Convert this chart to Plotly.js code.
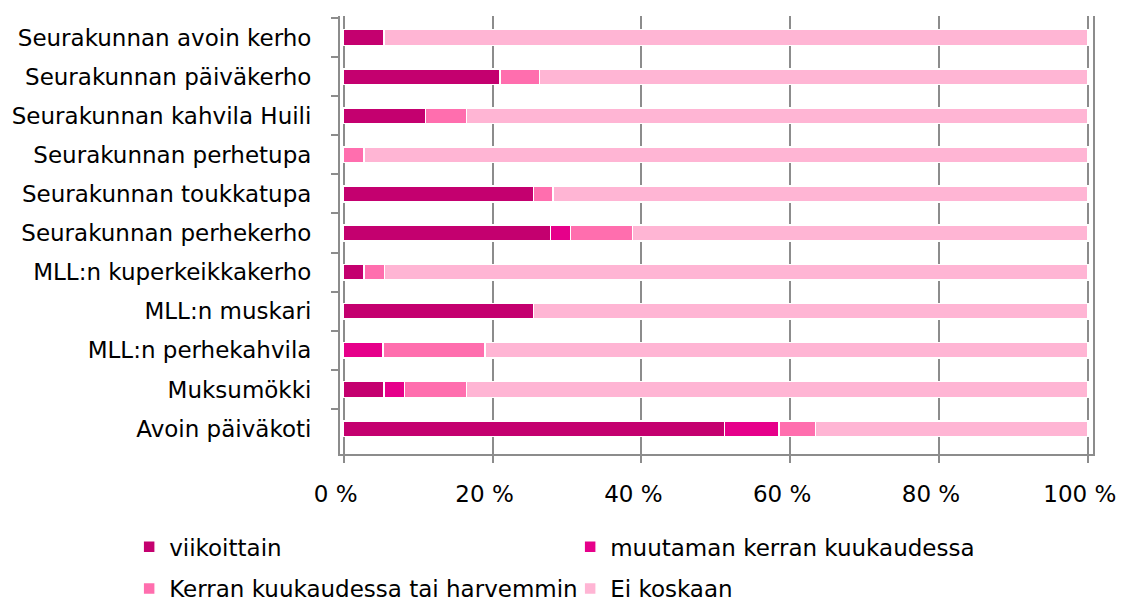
<!DOCTYPE html>
<html>
<head>
<meta charset="utf-8">
<script src="https://cdn.plot.ly/plotly-3.0.1.min.js"></script>
<style>html,body{margin:0;padding:0;background:#fff;}#chart{width:1122px;height:606px;}</style>
</head>
<body>
<div id="chart"></div>
<script>
const categories = [
  "Seurakunnan avoin kerho",
  "Seurakunnan päiväkerho",
  "Seurakunnan kahvila Huili",
  "Seurakunnan perhetupa",
  "Seurakunnan toukkatupa",
  "Seurakunnan perhekerho",
  "MLL:n kuperkeikkakerho",
  "MLL:n muskari",
  "MLL:n perhekahvila",
  "Muksumökki",
  "Avoin päiväkoti"
];
const seriesNames = ["viikoittain", "muutaman kerran kuukaudessa", "Kerran kuukaudessa tai harvemmin", "Ei koskaan"];
const viikoittain = [5.4, 21.0, 11.0, 0, 25.5, 27.8, 2.7, 25.5, 0, 5.4, 51.2];
const muutaman   = [0, 0, 0, 0, 0, 2.7, 0, 0, 5.3, 2.8, 7.3];
const kerran     = [0, 5.3, 5.5, 2.7, 2.6, 8.3, 2.8, 0, 13.7, 8.3, 4.9];
const eiKoskaan  = [94.6, 73.7, 83.5, 97.3, 71.9, 61.2, 94.5, 74.5, 81.0, 83.5, 36.6];
const tickValues = [0, 20, 40, 60, 80, 100];
const tickLabels = ["0 %", "20 %", "40 %", "60 %", "80 %", "100 %"];

const colors = ["#C4006F", "#E6008A", "#FF6EAE", "#FFB5D4"];
const seriesData = [viikoittain, muutaman, kerran, eiKoskaan];
const legends = ["legend", "legend", "legend2", "legend2"];

const traces = seriesData.map((vals, i) => ({
  type: "bar",
  orientation: "h",
  name: seriesNames[i],
  x: vals,
  y: categories,
  legend: legends[i],
  marker: {color: colors[i], line: {color: "#ffffff", width: 1.5}},
  hoverinfo: "x+y+name"
}));

const font = {family: "DejaVu Sans, Verdana, sans-serif", size: 23, color: "#000"};
const legendCommon = {
  orientation: "h",
  xanchor: "left",
  yanchor: "middle",
  x: -0.28,
  entrywidth: 396,
  entrywidthmode: "pixels",
  traceorder: "normal",
  font: font,
  bgcolor: "rgba(0,0,0,0)"
};

const layout = {
  width: 1122,
  height: 606,
  margin: {l: 340, r: 29, t: 16, b: 152, autoexpand: false},
  paper_bgcolor: "#fff",
  plot_bgcolor: "#fff",
  font: font,
  barmode: "stack",
  bargap: 0.6,
  showlegend: true,
  xaxis: {
    range: [-0.5, 100.7],
    tickvals: tickValues,
    ticktext: tickLabels,
    showgrid: true,
    gridcolor: "#8c8c8c",
    gridwidth: 2,
    zeroline: false,
    showline: true,
    linecolor: "#8c8c8c",
    linewidth: 2,
    ticks: "outside",
    ticklen: 7,
    tickwidth: 2,
    tickcolor: "#8c8c8c",
    ticklabelstandoff: 11,
    ticklabelshift: -8,
    ticklabeloverflow: "allow",
    tickfont: font,
    automargin: false,
    fixedrange: true
  },
  yaxis: {
    type: "category",
    categoryorder: "array",
    categoryarray: categories,
    range: [10.65, -0.55],
    showgrid: false,
    zeroline: false,
    showline: true,
    mirror: true,
    linecolor: "#8c8c8c",
    linewidth: 2,
    ticks: "outside",
    tickson: "boundaries",
    ticklen: 7,
    tickwidth: 2,
    tickcolor: "#8c8c8c",
    ticklabelstandoff: 22,
    tickfont: font,
    automargin: false,
    fixedrange: true
  },
  legend: Object.assign({}, legendCommon, {y: -0.212}),
  legend2: Object.assign({}, legendCommon, {y: -0.307})
};

Plotly.newPlot("chart", traces, layout, {displayModeBar: false, staticPlot: true});
</script>
</body>
</html>
